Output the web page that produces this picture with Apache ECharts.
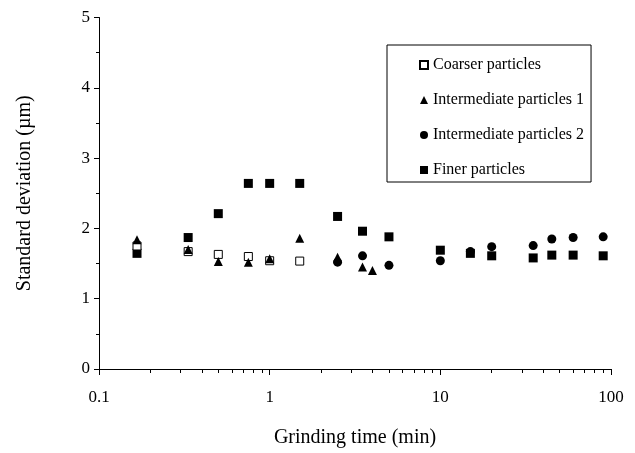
<!DOCTYPE html>
<html>
<head>
<meta charset="utf-8">
<script src="https://cdn.jsdelivr.net/npm/echarts@6/dist/echarts.min.js"></script>
<style>html,body{margin:0;padding:0;background:#fff}#c{width:635px;height:453px}</style>
</head>
<body>
<div id="c"></div>
<script>
// Grinding time (min) and standard deviation (µm)
var coarserT = [0.167, 0.333, 0.5, 0.75, 1, 1.5];
var coarserV = [1.75, 1.67, 1.63, 1.60, 1.54, 1.535];
var inter1T = [0.167, 0.333, 0.5, 0.75, 1, 1.5, 2.5, 3.5, 4];
var inter1V = [1.84, 1.70, 1.53, 1.52, 1.57, 1.86, 1.59, 1.45, 1.40];
var inter2T = [2.5, 3.5, 5, 10, 15, 20, 35, 45, 60, 90];
var inter2V = [1.52, 1.61, 1.475, 1.54, 1.67, 1.74, 1.755, 1.85, 1.87, 1.88];
var finerT = [0.167, 0.333, 0.5, 0.75, 1, 1.5, 2.5, 3.5, 5, 10, 15, 20, 35, 45, 60, 90];
var finerV = [1.645, 1.87, 2.21, 2.64, 2.64, 2.64, 2.17, 1.96, 1.88, 1.69, 1.645, 1.61, 1.58, 1.62, 1.62, 1.61];
var xMajorTicks = [0.1, 1, 10, 100];
var xMinorTicks = [0.2,0.3,0.4,0.5,0.6,0.7,0.8,0.9, 2,3,4,5,6,7,8,9, 20,30,40,50,60,70,80,90];
var seriesNames = ['Coarser particles', 'Intermediate particles 1', 'Intermediate particles 2', 'Finer particles'];

function pairs(t, v) { return t.map(function (x, i) { return [x, v[i]]; }); }

var font = '"Liberation Serif", "Times New Roman", serif';
var chart = echarts.init(document.getElementById('c'), null, {renderer: 'canvas'});
chart.setOption({
  animation: false,
  backgroundColor: '#fff',
  textStyle: {fontFamily: font, color: '#000'},
  grid: {left: 99, right: 24, top: 17.5, bottom: 84, containLabel: false},
  legend: {
    orient: 'vertical',
    left: 387, top: 45,
    padding: [12, 7, 4, 32],
    itemGap: 19,
    itemWidth: 8, itemHeight: 8,
    borderColor: '#000', borderWidth: 1,
    backgroundColor: '#fff',
    data: seriesNames,
    textStyle: {fontFamily: font, fontSize: 16, color: '#000'}
  },
  xAxis: [{
    type: 'log', logBase: 10, min: 0.1, max: 100,
    name: 'Grinding time (min)', nameLocation: 'middle', nameGap: 59,
    nameTextStyle: {fontFamily: font, fontSize: 20, color: '#000'},
    axisLine: {show: true, onZero: false, lineStyle: {color: '#000', width: 1}},
    axisTick: {show: true, inside: false, length: 6, customValues: xMajorTicks, lineStyle: {color: '#000'}},
    axisLabel: {fontFamily: font, fontSize: 17, color: '#000', margin: 20,
      customValues: xMajorTicks,
      formatter: function (v) { return String(Math.round(v * 10) / 10); }},
    splitLine: {show: false}
  }, {
    type: 'log', logBase: 10, min: 0.1, max: 100, position: 'bottom',
    axisLine: {show: false},
    axisTick: {show: true, inside: false, length: 4, customValues: xMinorTicks, lineStyle: {color: '#000'}},
    axisLabel: {show: false},
    splitLine: {show: false}
  }],
  yAxis: {
    type: 'value', min: 0, max: 5, interval: 1,
    name: 'Standard deviation (\u00b5m)', nameLocation: 'middle', nameGap: 64,
    nameTextStyle: {fontFamily: font, fontSize: 20, color: '#000'},
    axisLine: {show: true, lineStyle: {color: '#000', width: 1}},
    axisTick: {show: true, inside: false, length: 5, lineStyle: {color: '#000'}},
    minorTick: {show: true, splitNumber: 2, length: 3, lineStyle: {color: '#000'}},
    axisLabel: {fontFamily: font, fontSize: 17, color: '#000', margin: 9},
    splitLine: {show: false}
  },
  series: [
    {name: 'Finer particles', type: 'scatter', symbol: 'rect', symbolSize: 9, z: 2,
      itemStyle: {color: '#000', opacity: 1}, data: pairs(finerT, finerV)},
    {name: 'Intermediate particles 2', type: 'scatter', symbol: 'circle', symbolSize: 9, z: 3,
      itemStyle: {color: '#000', opacity: 1}, data: pairs(inter2T, inter2V)},
    {name: 'Coarser particles', type: 'scatter', symbol: 'rect', symbolSize: 8, z: 4,
      itemStyle: {color: '#fff', borderColor: '#000', borderWidth: 1, opacity: 1}, data: pairs(coarserT, coarserV)},
    {name: 'Intermediate particles 1', type: 'scatter', symbol: 'triangle', symbolSize: [9, 9], z: 5,
      itemStyle: {color: '#000', opacity: 1}, data: pairs(inter1T, inter1V)}
  ]
});
</script>
</body>
</html>
